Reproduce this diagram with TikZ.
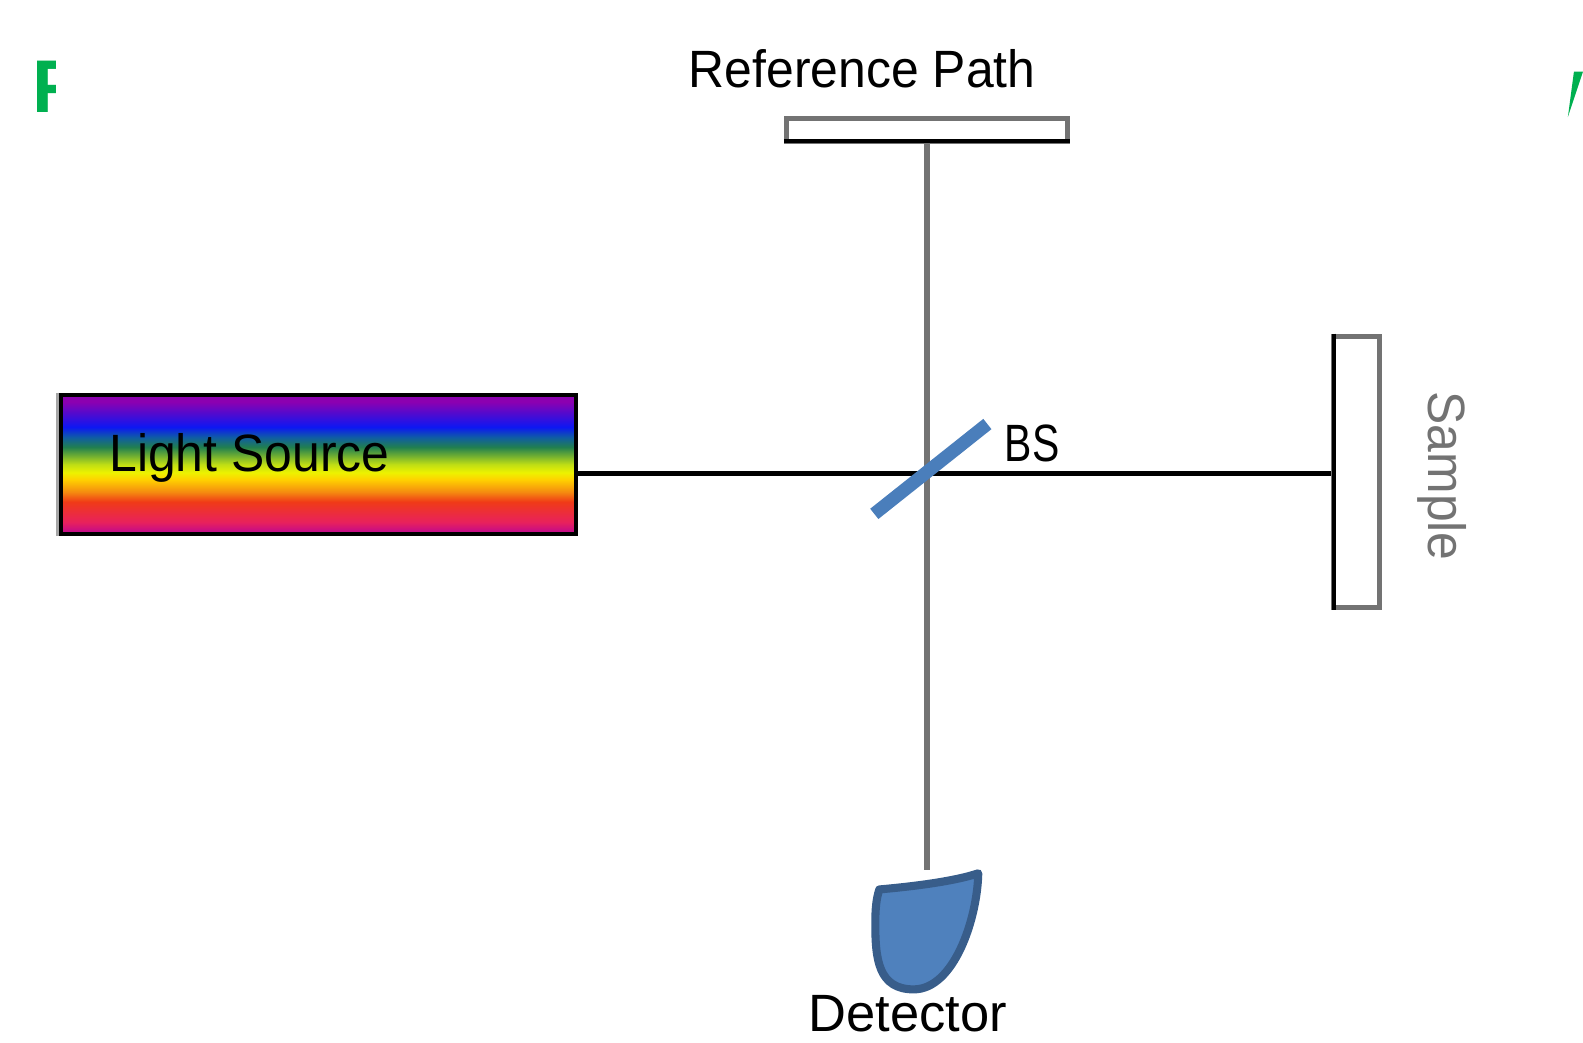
\documentclass[tikz,border=0pt]{standalone}
\usepackage{fontspec}
\setmainfont{Liberation Sans}
\newfontfamily\narrowfont[FakeStretch=0.95]{Liberation Sans}
\newfontfamily\tightfont[FakeStretch=0.78]{Liberation Sans}
\definecolor{markgreen}{HTML}{00B050}
\definecolor{splitblue}{HTML}{4A7EBB}
\definecolor{detfill}{HTML}{4F81BD}
\definecolor{detline}{HTML}{385D8A}
\pgfdeclareverticalshading{rainbow}{100bp}{
  rgb(0bp)=(0.75,0.03,0.56);
  rgb(25.4bp)=(0.75,0.03,0.56);
  rgb(29.3bp)=(0.91,0.13,0.36);
  rgb(36.6bp)=(0.94,0.23,0.09);
  rgb(40.2bp)=(0.96,0.55,0.06);
  rgb(44.6bp)=(1,0.82,0);
  rgb(47.1bp)=(0.93,0.95,0);
  rgb(50bp)=(0.75,0.87,0.08);
  rgb(56.2bp)=(0.13,0.5,0.31);
  rgb(59.8bp)=(0.06,0.36,0.65);
  rgb(63.4bp)=(0.05,0.09,0.95);
  rgb(72.5bp)=(0.55,0,0.69);
  rgb(100bp)=(0.55,0,0.69)}
\tikzset{
  label/.style={font=\fontsize{26}{30}\selectfont, inner sep=0pt},
  mirror/.style={draw=black!55, line width=2.5pt, fill=white, inner sep=0pt},
}

\begin{document}
\begin{tikzpicture}[x=0.5pt,y=-0.5pt]
\useasboundingbox (0,0) rectangle (1568,1033);

\begin{scope}
\clip (0,40) rectangle (55,130);
\node[font=\fontsize{37}{40}\selectfont\bfseries, text=markgreen, anchor=base west, inner sep=0pt] (mark) at (32,111) {F};
\end{scope}
\fill[markgreen] (1559,71) -- (1568,71) -- (1553,116) -- cycle;

\node[mirror, minimum width=139pt, minimum height=11.5pt] (ref) at (918,128.5) {};
\draw[line width=2pt] ([yshift=1.25pt]ref.south west) -- ([yshift=1.25pt]ref.south east);
\node[mirror, minimum width=22.5pt, minimum height=134.5pt] (sample) at (1343.5,467.5) {};
\draw[line width=2pt] ([xshift=1.25pt]sample.north west) -- ([xshift=1.25pt]sample.south west);
\node[draw=black, line width=2pt, shading=rainbow, minimum width=255.5pt, minimum height=69pt, inner sep=0pt] (source) at (315.5,460) {};
\draw[black!35, line width=1.5pt] ([xshift=-0.75pt]source.north west) -- ([xshift=-0.75pt]source.south west);
\coordinate (bs) at (918,469);
\coordinate (dettop) at (918,862);

\draw[line width=2.8pt, black!55] (ref) -- (dettop);
\draw[line width=2pt] (source.east |- bs) -- (bs) -- (sample.west |- bs);
\coordinate (bslow) at (866,509);
\coordinate (bshigh) at (978,420);
\draw[line width=6.5pt, splitblue] (bslow) -- (bshigh);

\draw[line width=4pt, draw=detline, fill=detfill, line join=round] (871,881) .. controls (905,878) and (945,873) .. (969,865) .. controls (968,910) and (945,980) .. (905,980) .. controls (870,980) and (867,950) .. (867,915) .. controls (867,900) and (868,890) .. (871,881) -- cycle;

\node[label, anchor=base] (reftext) at (854,87) {\narrowfont Reference Path};
\node[label, anchor=base west] (sourcetext) at (108,467) {\narrowfont Light Source};
\node[label, anchor=base west] (bstext) at (995,457) {\tightfont BS};
\node[label, anchor=base, rotate=-90, text=black!55] (sampletext) at (1415,471.5) {\narrowfont Sample};
\node[label, anchor=base] (dettext) at (899,1022) {Detector};
\end{tikzpicture}
\end{document}
